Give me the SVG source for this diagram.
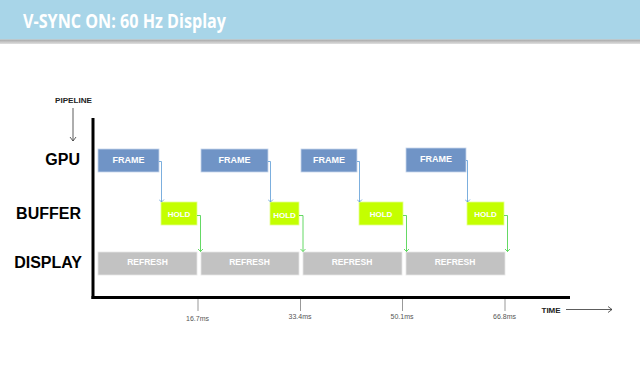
<svg xmlns="http://www.w3.org/2000/svg" width="640" height="372" viewBox="0 0 640 372">
<defs>
<linearGradient id="sh" x1="0" y1="0" x2="0" y2="1"><stop offset="0" stop-color="#a6a6a6"/><stop offset="1" stop-color="#e0e0e0"/></linearGradient>
<marker id="ab" markerWidth="6" markerHeight="6" refX="3" refY="5" markerUnits="userSpaceOnUse" viewBox="0 0 6 6"><path d="M0.5,2.5 L3,5 L5.5,2.5" fill="none" stroke="#5b9bd5" stroke-width="0.8"/></marker>
<marker id="ag" markerWidth="6" markerHeight="6" refX="3" refY="5" markerUnits="userSpaceOnUse" viewBox="0 0 6 6"><path d="M0.5,2.5 L3,5 L5.5,2.5" fill="none" stroke="#3ecf3e" stroke-width="0.8"/></marker>
<marker id="ak" markerWidth="8" markerHeight="8" refX="6" refY="4" orient="auto" markerUnits="userSpaceOnUse" viewBox="0 0 8 8"><path d="M2,1 L6,4 L2,7" fill="none" stroke="#333" stroke-width="0.8"/></marker>
</defs>
<style>
.lbl{font-family:"Liberation Sans",Arial,sans-serif;font-weight:bold;font-size:16px;fill:#000;text-anchor:end}
.frame rect{fill:#7094c6;stroke:#c5d5ea;stroke-width:0.8}
.hold rect{fill:#c4ff00;stroke:#e4ff90;stroke-width:0.8}
.refresh rect{fill:#c2c2c2;stroke:#e6e6e6;stroke-width:0.8}
.bt{font-family:"Liberation Sans",Arial,sans-serif;font-weight:bold;fill:#fff;text-anchor:middle}
.tick{stroke:#999;stroke-width:1}
.tl{font-family:"Liberation Sans",Arial,sans-serif;font-size:7px;fill:#555;text-anchor:middle}
.cb{fill:none;stroke:#5b9bd5;stroke-width:0.8;marker-end:url(#ab)}
.cg{fill:none;stroke:#3ecf3e;stroke-width:0.8;marker-end:url(#ag)}
</style>
<rect width="640" height="372" fill="#fff"/>
<g id="header">
<rect x="0" y="0" width="640" height="39.5" fill="#a8d5e8"/>
<rect x="0" y="39.5" width="640" height="4.5" fill="url(#sh)"/>
<text x="23" y="28" font-family="'Open Sans','Liberation Sans',sans-serif" font-weight="bold" font-size="19" fill="#fff" textLength="203" lengthAdjust="spacingAndGlyphs">V-SYNC ON: 60 Hz Display</text>
</g>
<g id="axes">
<line x1="93" y1="118" x2="93" y2="299" stroke="#000" stroke-width="3"/>
<line x1="91.5" y1="297.5" x2="570" y2="297.5" stroke="#000" stroke-width="3"/>
<line class="tick" x1="198" y1="299" x2="198" y2="311"/>
<line class="tick" x1="300.5" y1="299" x2="300.5" y2="311"/>
<line class="tick" x1="402.5" y1="299" x2="402.5" y2="311"/>
<line class="tick" x1="505" y1="299" x2="505" y2="311"/>
<text class="tl" x="197.5" y="320.5">16.7ms</text>
<text class="tl" x="300" y="318.5">33.4ms</text>
<text class="tl" x="402" y="318.5">50.1ms</text>
<text class="tl" x="504.5" y="318.5">66.8ms</text>
<text x="541.5" y="312.5" font-family="'Liberation Sans',Arial,sans-serif" font-weight="bold" font-size="8" fill="#222">TIME</text>
<line x1="566" y1="309.5" x2="612" y2="309.5" stroke="#333" stroke-width="0.8" marker-end="url(#ak)"/>
<text x="73.5" y="103" font-family="'Liberation Sans',Arial,sans-serif" font-weight="bold" font-size="7.5" fill="#222" text-anchor="middle" textLength="37" lengthAdjust="spacingAndGlyphs">PIPELINE</text>
<line x1="73" y1="108" x2="73" y2="141" stroke="#333" stroke-width="0.8" marker-end="url(#ak)"/>
</g>
<g id="labels">
<text class="lbl" x="80" y="165">GPU</text>
<text class="lbl" x="81" y="219">BUFFER</text>
<text class="lbl" x="82" y="268">DISPLAY</text>
</g>
<g id="frame1" class="frame"><rect x="98" y="149" width="61" height="23"/><text class="bt" x="128.5" y="162.5" font-size="9">FRAME</text></g>
<g id="frame2" class="frame"><rect x="201" y="149" width="67" height="23"/><text class="bt" x="234.5" y="162.5" font-size="9">FRAME</text></g>
<g id="frame3" class="frame"><rect x="301" y="149" width="56" height="23"/><text class="bt" x="329" y="162.5" font-size="9">FRAME</text></g>
<g id="frame4" class="frame"><rect x="406" y="148" width="60" height="24"/><text class="bt" x="436" y="161.5" font-size="9">FRAME</text></g>
<g id="hold1" class="hold"><rect x="161" y="202" width="36" height="23"/><text class="bt" x="179" y="216.5" font-size="8">HOLD</text></g>
<g id="hold2" class="hold"><rect x="270" y="202" width="29" height="23"/><text class="bt" x="284.5" y="217.5" font-size="8">HOLD</text></g>
<g id="hold3" class="hold"><rect x="359" y="202" width="44" height="23"/><text class="bt" x="381" y="216.5" font-size="8">HOLD</text></g>
<g id="hold4" class="hold"><rect x="467" y="202" width="37" height="23"/><text class="bt" x="485.5" y="216.5" font-size="8">HOLD</text></g>
<g id="refresh1" class="refresh"><rect x="98" y="252" width="99" height="23"/><text class="bt" x="147.5" y="264.5" font-size="8.5">REFRESH</text></g>
<g id="refresh2" class="refresh"><rect x="201" y="252" width="98" height="23"/><text class="bt" x="249.5" y="264.5" font-size="8.5">REFRESH</text></g>
<g id="refresh3" class="refresh"><rect x="303" y="252" width="99" height="23"/><text class="bt" x="352" y="264.5" font-size="8.5">REFRESH</text></g>
<g id="refresh4" class="refresh"><rect x="406" y="252" width="99" height="23"/><text class="bt" x="455" y="264.5" font-size="8.5">REFRESH</text></g>
<g id="connectors">
<path class="cb" d="M159,161.5 H161.5 V202"/>
<path class="cb" d="M268,161.5 H270.5 V202"/>
<path class="cb" d="M357,161.5 H359.5 V202"/>
<path class="cb" d="M466,160.5 H467.5 V202"/>
<path class="cg" d="M197,215.5 H200.5 V251.5"/>
<path class="cg" d="M299,215.5 H303 V251.5"/>
<path class="cg" d="M403,215.5 H406.5 V251.5"/>
<path class="cg" d="M504,215.5 H507.5 V251.5"/>
</g>
</svg>
